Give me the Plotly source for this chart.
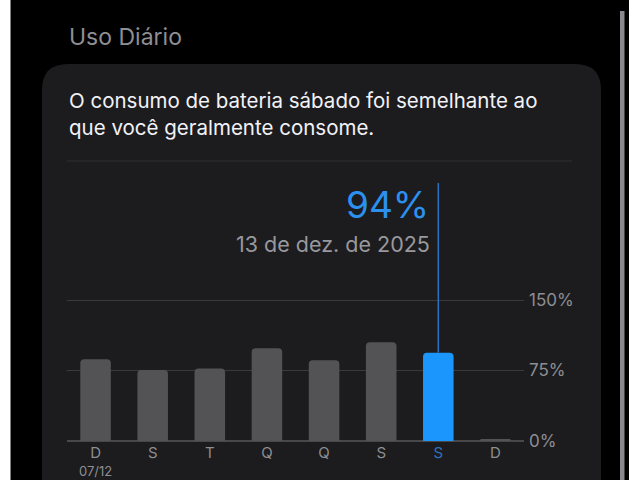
import plotly.graph_objects as go

# ---- data ----
day_labels = ["D", "S", "T", "Q", "Q", "S", "S", "D"]
first_date = "07/12"
usage_pct = [87, 75.5, 77, 98.6, 86, 105, 94, 1.5]
selected_index = 6
y_ticks = [0, 75, 150]
y_tick_labels = ["0%", "75%", "150%"]
header = "Uso Diário"
summary_lines = ["O consumo de bateria sábado foi semelhante ao", "que você geralmente consome."]
selected_value_text = "94%"
selected_date_text = "13 de dez. de 2025"

W, H = 640, 480
FONT = "Inter"
GRAY_BAR = "#535356"
BLUE = "#1a96fc"
BLUE_TEXT = "#2b90ee"
BLUE_LINE = "#2a72c0"
LABEL_GRAY = "#8e8e93"
CARD = "#1c1c1e"

def px(x):
    return x / W

def py(y):
    return 1 - y / H

x_pos = list(range(len(usage_pct)))
colors = [BLUE if i == selected_index else GRAY_BAR for i in x_pos]

ticktext = []
for i, lab in enumerate(day_labels):
    if i == selected_index:
        ticktext.append(f"<span style='color:{BLUE_LINE}'>{lab}</span>")
    else:
        ticktext.append(lab)

# axis geometry (pixels)
plot_left, plot_right = 67, 524
zero_y, top150_y, axis_top_y = 441, 300, 183
ymax = 150 * (zero_y - axis_top_y) / (zero_y - top150_y)

fig = go.Figure()
fig.add_trace(go.Bar(
    x=x_pos, y=usage_pct, marker=dict(color=colors, line=dict(width=0)),
    width=0.535, hoverinfo="skip",
))
fig.add_trace(go.Scatter(
    x=[selected_index, selected_index], y=[usage_pct[selected_index], ymax],
    mode="lines", line=dict(color=BLUE_LINE, width=1.5), hoverinfo="skip",
))

# card with rounded top corners
r = 26
cl, cr, ct, cb = 42, 601, 64, 480
rx, ry = r / W, r / H
path = (f"M {px(cl)},{py(cb)} L {px(cl)},{py(ct)-ry} Q {px(cl)},{py(ct)} {px(cl)+rx},{py(ct)} "
        f"L {px(cr)-rx},{py(ct)} Q {px(cr)},{py(ct)} {px(cr)},{py(ct)-ry} L {px(cr)},{py(cb)} Z")
shapes = [
    dict(type="path", path=path, xref="paper", yref="paper", fillcolor=CARD,
         line=dict(width=0), layer="below"),
    dict(type="rect", xref="paper", yref="paper", x0=0, x1=px(10.5), y0=0, y1=1,
         fillcolor="#ffffff", line=dict(width=0), layer="below"),
    dict(type="rect", xref="paper", yref="paper", x0=px(629), x1=1, y0=0, y1=1,
         fillcolor="#ffffff", line=dict(width=0), layer="below"),
    dict(type="rect", xref="paper", yref="paper", x0=px(620), x1=px(624.5), y0=0, y1=py(11),
         fillcolor="#8a8a8e", line=dict(width=0), layer="below"),
    dict(type="line", xref="paper", yref="paper", x0=px(67), x1=px(572), y0=py(161), y1=py(161),
         line=dict(color="#2e2e31", width=1.2), layer="below"),
]

annotations = [
    dict(text=header, x=px(67), y=py(37), xref="paper", yref="paper", xanchor="left",
         yanchor="middle", showarrow=False, font=dict(family=FONT, size=23, color=LABEL_GRAY)),
    dict(text=summary_lines[0], x=px(67), y=py(100), xref="paper", yref="paper", xanchor="left",
         yanchor="middle", showarrow=False, font=dict(family=FONT, size=20.5, color="#f2f2f7")),
    dict(text=summary_lines[1], x=px(67), y=py(128), xref="paper", yref="paper", xanchor="left",
         yanchor="middle", showarrow=False, font=dict(family=FONT, size=20.5, color="#f2f2f7")),
    dict(text=selected_value_text, x=px(431), y=py(205), xref="paper", yref="paper",
         xanchor="right", yanchor="middle", showarrow=False,
         font=dict(family=FONT, size=37, color=BLUE_TEXT)),
    dict(text=selected_date_text, x=px(432), y=py(244), xref="paper", yref="paper",
         xanchor="right", yanchor="middle", showarrow=False,
         font=dict(family=FONT, size=21.5, color="#98989d")),
    dict(text=first_date, x=x_pos[0], xref="x", y=0, yref="paper", xanchor="center",
         yanchor="bottom", showarrow=False, borderpad=0,
         font=dict(family=FONT, size=13, color=LABEL_GRAY)),
]

fig.update_layout(
    width=W, height=H, margin=dict(l=0, r=0, t=0, b=0, autoexpand=False),
    paper_bgcolor="#000000", plot_bgcolor="rgba(0,0,0,0)",
    showlegend=False, barcornerradius=4,
    shapes=shapes, annotations=annotations,
    xaxis=dict(domain=[px(plot_left), px(plot_right)], range=[-0.5, 7.5], automargin=False,
               tickvals=x_pos, ticktext=ticktext, showgrid=False, zeroline=False,
               showline=False, ticks="", ticklabelstandoff=1,
               tickfont=dict(family=FONT, size=15, color=LABEL_GRAY), fixedrange=True),
    yaxis=dict(domain=[1 - zero_y / H, 1 - axis_top_y / H], range=[0, ymax], side="right",
               automargin=False,
               tickvals=y_ticks, ticktext=y_tick_labels, showgrid=True, gridcolor="#3a3a3c",
               gridwidth=1, zeroline=True, zerolinecolor="#48484a", zerolinewidth=1.5,
               showline=False, ticks="", ticklabelstandoff=4,
               tickfont=dict(family=FONT, size=17, color=LABEL_GRAY), fixedrange=True),
)

fig.write_html("out.html", config={"displayModeBar": False},
               post_script="document.body.style.margin='0';document.body.style.overflow='hidden';")
